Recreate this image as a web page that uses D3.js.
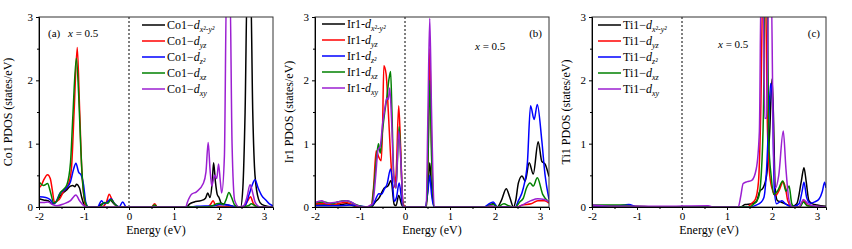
<!DOCTYPE html>
<html>
<head>
<meta charset="utf-8">
<script src="https://cdn.jsdelivr.net/npm/d3@7"></script>
<style>
  body { margin: 0; background: #fff; }
  svg { display: block; font-family: "Liberation Serif", "DejaVu Serif", serif; }
</style>
</head>
<body>
<svg id="chart" width="852" height="249"></svg>
<script>
// ---- data (energy in eV, PDOS in states/eV) ----
const xTicks = [-2, -1, 0, 1, 2, 3];
const yTicks = [0, 1, 2, 3];
const orbitals = ['x2y2', 'yz', 'z2', 'xz', 'xy'];
const colors = ['#000000', '#ff0000', '#0000ff', '#008000', '#9b1fd1'];

// panel (a) Co1
const coX2y2 = [[-2,0.13],[-1.9,0.11],[-1.8,0.1],[-1.7,0.05],[-1.6,0.1],[-1.5,0.2],[-1.4,0.26],[-1.3,0.33],[-1.25,0.34],[-1.2,0.32],[-1.17,0.36],[-1.1,0.3],[-1.05,0.15],[-1,0.04],[-0.95,0],[-0.7,0],[-0.6,0.05],[-0.5,0.07],[-0.42,0.11],[-0.32,0.04],[-0.22,0],[1.28,0],[1.35,0.05],[1.45,0.08],[1.6,0.1],[1.7,0.14],[1.75,0.22],[1.8,0.15],[1.85,0.4],[1.88,0.7],[1.92,0.4],[1.96,0.2],[2,0.15],[2.05,0.06],[2.15,0.04],[2.25,0.02],[2.4,0],[2.48,0],[2.53,0.3],[2.58,1.5],[2.63,3.6],[2.7,3.6],[2.75,1.5],[2.8,0.5],[2.88,0.12],[2.95,0.04],[3.1,0.01],[3.2,0]];
const coYz = [[-2,0.3],[-1.95,0.34],[-1.9,0.42],[-1.81,0.51],[-1.75,0.45],[-1.7,0.25],[-1.66,0.08],[-1.55,0.12],[-1.45,0.25],[-1.35,0.35],[-1.28,0.6],[-1.22,1.5],[-1.15,2.52],[-1.1,1.6],[-1.05,0.6],[-1,0.15],[-0.95,0],[-0.6,0],[-0.5,0.08],[-0.44,0.2],[-0.38,0.12],[-0.3,0.03],[-0.2,0],[0.5,0],[0.57,0.05],[0.63,0],[1.75,0],[1.82,0.05],[1.87,0.1],[1.92,0.03],[2,0.01],[2.55,0],[2.64,0.1],[2.7,0.16],[2.76,0.06],[2.85,0],[3.2,0]];
const coZ2 = [[-2,0.16],[-1.85,0.15],[-1.76,0.12],[-1.66,0.05],[-1.53,0.22],[-1.4,0.29],[-1.3,0.4],[-1.23,0.6],[-1.18,0.69],[-1.12,0.55],[-1.06,0.5],[-1.01,0.35],[-0.96,0.07],[-0.9,0],[-0.7,0],[-0.61,0.1],[-0.55,0.05],[-0.48,0.08],[-0.4,0.13],[-0.32,0.05],[-0.22,0],[-0.14,0.08],[-0.06,0],[1.3,0],[1.5,0.01],[1.9,0.02],[2,0.04],[2.2,0.03],[2.4,0],[2.52,0],[2.6,0.05],[2.67,0.2],[2.73,0.33],[2.8,0.43],[2.87,0.3],[2.95,0.18],[3.04,0.11],[3.12,0.05],[3.2,0.02]];
const coXz = [[-2,0.4],[-1.95,0.36],[-1.9,0.34],[-1.81,0.37],[-1.75,0.25],[-1.67,0.06],[-1.6,0.1],[-1.53,0.22],[-1.45,0.28],[-1.38,0.35],[-1.3,0.7],[-1.25,1.4],[-1.17,2.35],[-1.12,1.8],[-1.07,0.9],[-1.02,0.3],[-0.96,0.05],[-0.9,0],[-0.65,0],[-0.55,0.07],[-0.47,0.06],[-0.4,0.12],[-0.32,0.05],[-0.22,0],[0.5,0],[0.57,0.03],[0.63,0],[1.7,0],[1.85,0.02],[1.95,0.05],[2.02,0.06],[2.1,0.04],[2.16,0.12],[2.22,0.23],[2.28,0.15],[2.35,0.03],[2.45,0],[2.65,0.02],[2.72,0.05],[2.8,0.02],[2.9,0],[3.2,0]];
const coXy = [[-2,0.07],[-1.9,0.07],[-1.8,0.08],[-1.7,0.04],[-1.6,0.02],[-1.45,0.05],[-1.3,0.1],[-1.18,0.19],[-1.1,0.1],[-1,0.02],[-0.9,0],[1.26,0],[1.3,0.08],[1.39,0.2],[1.5,0.24],[1.65,0.37],[1.71,0.55],[1.76,1.02],[1.8,0.6],[1.84,0.33],[1.9,0.5],[1.95,0.45],[1.99,0.68],[2.03,0.4],[2.06,0.22],[2.12,0.8],[2.17,3.6],[2.24,3.6],[2.29,1],[2.35,0.1],[2.45,0],[2.55,0.02],[2.62,0.15],[2.69,0.35],[2.74,0.25],[2.8,0.08],[2.88,0.01],[2.95,0],[3.2,0]];

// panel (b) Ir1
const irX2y2 = [[-2,0.03],[-1.5,0.03],[-1.3,0.05],[-1.1,0.01],[-0.75,0],[-0.66,0.08],[-0.58,0.14],[-0.46,0.3],[-0.38,0.33],[-0.31,0.42],[-0.24,0.04],[-0.2,0.02],[-0.14,0.18],[-0.07,0.03],[-0.02,0],[0.45,0],[0.51,0.3],[0.55,0.7],[0.59,0.3],[0.65,0],[1.8,0],[1.88,0.03],[1.96,0.05],[2.05,0],[2.14,0.1],[2.25,0.29],[2.33,0.15],[2.41,0],[2.46,0.1],[2.52,0.38],[2.6,0.49],[2.67,0.41],[2.76,0.7],[2.85,0.52],[2.96,1.03],[3.04,0.72],[3.11,0.68],[3.2,0.48]];
const irYz = [[-2,0.05],[-1.8,0.06],[-1.6,0.03],[-1.5,0.05],[-1.3,0.07],[-1.15,0.03],[-1,0],[-0.76,0],[-0.7,0.3],[-0.64,0.89],[-0.59,0.8],[-0.53,0.73],[-0.5,1.2],[-0.47,2.23],[-0.42,2.1],[-0.37,1.5],[-0.32,0.8],[-0.26,0.3],[-0.2,0.5],[-0.14,1.6],[-0.1,1],[-0.05,0.1],[0,0],[0.48,0],[0.52,1.2],[0.55,2.5],[0.59,1],[0.65,0],[2.5,0],[2.6,0.03],[2.8,0.05],[2.95,0.1],[3.1,0.1],[3.2,0.06]];
const irZ2 = [[-2,0.02],[-1.5,0.02],[-1.2,0.03],[-0.8,0],[-0.7,0.05],[-0.58,0.21],[-0.52,0.2],[-0.46,0.28],[-0.4,0.36],[-0.32,0.6],[-0.28,0.4],[-0.24,0.09],[-0.19,0.15],[-0.13,0.38],[-0.08,0.15],[-0.04,0],[0.45,0],[0.51,0.25],[0.55,0.5],[0.59,0.2],[0.65,0],[1.75,0],[1.85,0.04],[1.96,0.08],[2.05,0],[2.45,0],[2.52,0.1],[2.63,0.3],[2.72,0.7],[2.79,1.6],[2.87,1.38],[2.94,1.62],[3.04,1.05],[3.11,0.52],[3.2,0.12]];
const irXz = [[-2,0.07],[-1.8,0.08],[-1.6,0.05],[-1.5,0.08],[-1.3,0.1],[-1.1,0.04],[-0.9,0],[-0.75,0],[-0.68,0.4],[-0.63,0.8],[-0.59,1],[-0.55,0.85],[-0.5,1.2],[-0.45,1.5],[-0.4,1.75],[-0.36,2],[-0.32,2.14],[-0.29,1.5],[-0.25,0.5],[-0.2,0.3],[-0.13,1.27],[-0.09,0.7],[-0.04,0],[0.48,0],[0.52,1],[0.55,2],[0.59,0.8],[0.65,0],[1.8,0],[1.88,0.03],[1.96,0.04],[2.05,0],[2.2,0.05],[2.3,0.02],[2.45,0],[2.55,0.08],[2.63,0.14],[2.7,0.3],[2.78,0.38],[2.85,0.33],[2.94,0.46],[3.06,0.2],[3.2,0.08]];
const irXy = [[-2,0.07],[-1.85,0.1],[-1.75,0.06],[-1.5,0.08],[-1.3,0.1],[-1.2,0.08],[-1.05,0.02],[-0.9,0],[-0.72,0.05],[-0.65,0.5],[-0.6,0.9],[-0.55,0.96],[-0.5,1.3],[-0.45,1.55],[-0.4,1.72],[-0.37,1.7],[-0.34,1.88],[-0.3,1.4],[-0.25,0.5],[-0.2,0.3],[-0.14,1.2],[-0.09,0.7],[-0.04,0],[0.47,0],[0.51,1.5],[0.55,2.98],[0.59,1.5],[0.65,0],[1.8,0],[1.9,0.02],[2.05,0],[2.5,0],[2.6,0.03],[2.8,0.1],[2.95,0.13],[3.1,0.12],[3.2,0.08]];

// panel (c) Ti1
const tiX2y2 = [[-2,0.02],[-1.5,0.01],[-1,0.01],[-0.5,0],[1.3,0],[1.4,0.04],[1.55,0.05],[1.65,0.08],[1.73,0.25],[1.8,0.3],[1.88,0.5],[1.95,1.2],[2,2.02],[2.03,1.5],[2.07,0.3],[2.12,0.1],[2.2,0.08],[2.3,0.05],[2.45,0.01],[2.55,0.05],[2.65,0.4],[2.71,0.62],[2.76,0.4],[2.82,0.1],[2.9,0.05],[3,0.03],[3.2,0.01]];
const tiYz = [[-2,0.02],[-1.5,0.01],[-1,0],[1.45,0],[1.55,0.06],[1.63,0.12],[1.7,0.4],[1.75,1.5],[1.8,3.6],[1.85,3.6],[1.9,1.2],[1.95,0.5],[2.02,0.25],[2.08,0.18],[2.15,0.25],[2.25,0.4],[2.3,0.3],[2.35,0.1],[2.45,0],[2.6,0],[2.7,0.1],[2.8,0.02],[3.2,0]];
const tiZ2 = [[-2,0.02],[-1.5,0.01],[-1.18,0.04],[-1,0],[1.5,0],[1.65,0.03],[1.75,0.07],[1.82,0.15],[1.88,0.6],[1.93,1.4],[1.97,1.95],[2.01,1.7],[2.05,0.3],[2.1,0.05],[2.22,0.1],[2.3,0.05],[2.45,0],[2.6,0.05],[2.67,0.25],[2.71,0.39],[2.77,0.15],[2.85,0.06],[2.95,0.08],[3.05,0.13],[3.12,0.25],[3.17,0.39],[3.2,0.3]];
const tiXz = [[-2,0.03],[-1.5,0.03],[-1.3,0.03],[-1,0],[1.5,0],[1.6,0.05],[1.7,0.15],[1.76,0.5],[1.81,1.5],[1.85,3.6],[1.89,3.6],[1.93,1],[1.98,0.5],[2.04,0.2],[2.12,0.25],[2.24,0.41],[2.31,0.25],[2.38,0.33],[2.44,0.05],[2.5,0],[2.62,0],[2.7,0.08],[2.78,0.02],[3.2,0]];
const tiXy = [[-2,0.03],[-1.5,0.01],[-0.5,0.01],[0.58,0.02],[0.7,0],[1.25,0],[1.3,0.15],[1.36,0.37],[1.45,0.4],[1.55,0.42],[1.65,0.6],[1.72,1.2],[1.76,3.6],[1.8,3.6],[1.84,1.4],[1.88,1.4],[1.93,3.6],[1.98,3.6],[2.03,1],[2.08,0.3],[2.15,0.5],[2.25,1.2],[2.31,0.6],[2.38,0.1],[2.45,0],[2.6,0],[2.7,0.12],[2.8,0.05],[3,0.01],[3.2,0]];

const panels = [
  { left: 39, atom: 'Co1', dash: '\u2212', tag: '(a)', ylabOff: 27, series: [coX2y2, coYz, coZ2, coXz, coXy],
    legX: 142, legY: 25, tagPos: [48, 37, 'start'], xPos: [68, 37] },
  { left: 315, atom: 'Ir1', dash: '-', tag: '(b)', ylabOff: 22, series: [irX2y2, irYz, irZ2, irXz, irXy],
    legX: 322, legY: 24, tagPos: [542, 37, 'end'], xPos: [475, 50] },
  { left: 592, atom: 'Ti1', dash: '\u2212', tag: '(c)', ylabOff: 22, series: [tiX2y2, tiYz, tiZ2, tiXz, tiXy],
    legX: 598, legY: 25, tagPos: [820, 37, 'end'], xPos: [718, 48] }
];

const svg = d3.select('#chart');
const plotW = 234, plotTop = 17, plotBottom = 207;

panels.forEach((p, i) => {
  const h = plotBottom - plotTop;
  const x = d3.scaleLinear().domain([-2, 3.2]).range([0, plotW]);
  const y = d3.scaleLinear().domain([0, 3]).range([h, 0]);
  const g = svg.append('g').attr('transform', `translate(${p.left},${plotTop})`);

  svg.append('clipPath').attr('id', 'clip' + i)
    .append('rect').attr('width', plotW).attr('height', h);

  // fermi level
  g.append('line')
    .attr('x1', x(0)).attr('x2', x(0)).attr('y1', 0).attr('y2', h)
    .attr('stroke', '#000').attr('stroke-width', 1).attr('stroke-dasharray', '2,2');

  const line = d3.line()
    .x(d => x(d[0])).y(d => y(d[1]))
    .curve(d3.curveMonotoneX);

  const lines = g.append('g').attr('clip-path', `url(#clip${i})`);
  p.series.forEach((s, k) => {
    lines.append('path')
      .datum(s)
      .attr('d', line)
      .attr('fill', 'none')
      .attr('stroke', colors[k])
      .attr('stroke-width', 1.5);
  });

  // frame
  g.append('rect').attr('width', plotW).attr('height', h)
    .attr('fill', 'none').attr('stroke', '#333').attr('stroke-width', 1);

  // axes
  const xAxis = g.append('g').attr('transform', `translate(0,${h})`)
    .call(d3.axisBottom(x).tickValues(xTicks).tickSize(3).tickPadding(2).tickFormat(d => String(d)));
  g.append('g').attr('transform', `translate(0,${h})`)
    .call(d3.axisBottom(x).tickValues([-1.5, -0.5, 0.5, 1.5, 2.5]).tickSize(2).tickFormat(''))
    .call(a => a.select('.domain').remove());
  const yAxis = g.append('g')
    .call(d3.axisLeft(y).tickValues(yTicks).tickSize(3).tickFormat(d => String(d)));
  g.append('g')
    .call(d3.axisLeft(y).tickValues([0.5, 1.5, 2.5]).tickSize(2).tickFormat(''))
    .call(a => a.select('.domain').remove());
  [xAxis, yAxis].forEach(a => {
    a.select('.domain').attr('stroke', '#000');
    a.selectAll('text').attr('font-family', '"Liberation Serif", serif').attr('font-size', 11).attr('fill', '#000');
  });

  // axis titles
  g.append('text')
    .attr('x', plotW / 2).attr('y', h + 27)
    .attr('text-anchor', 'middle').attr('font-size', 12)
    .text('Energy (eV)');
  g.append('text')
    .attr('transform', `translate(${-p.ylabOff},${h / 2}) rotate(-90)`)
    .attr('text-anchor', 'middle').attr('font-size', 12)
    .text(p.atom + ' PDOS (states/eV)');

  // panel tag and composition
  svg.append('text').attr('x', p.tagPos[0]).attr('y', p.tagPos[1])
    .attr('text-anchor', p.tagPos[2]).attr('font-size', 11).text(p.tag);
  const xt = svg.append('text').attr('x', p.xPos[0]).attr('y', p.xPos[1]).attr('font-size', 11);
  xt.append('tspan').attr('font-style', 'italic').text('x');
  xt.append('tspan').text(' = 0.5');

  // legend
  const subs = ['x\u00b2-y\u00b2', 'yz', 'z\u00b2', 'xz', 'xy'];
  orbitals.forEach((o, k) => {
    const yy = p.legY + k * 16;
    svg.append('line')
      .attr('x1', p.legX).attr('x2', p.legX + 23).attr('y1', yy).attr('y2', yy)
      .attr('stroke', colors[k]).attr('stroke-width', 1.5);
    const t = svg.append('text').attr('x', p.legX + 25).attr('y', yy + 4).attr('font-size', 12);
    t.append('tspan').text(p.atom + p.dash);
    t.append('tspan').attr('font-style', 'italic').text('d');
    t.append('tspan').attr('font-style', 'italic').attr('font-size', 8).attr('dy', 3).text(subs[k]);
  });
});
</script>
</body>
</html>
